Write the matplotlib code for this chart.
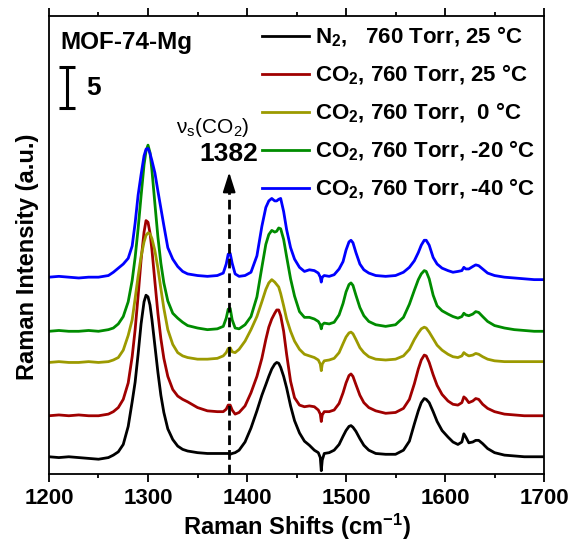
import numpy as np
import matplotlib
matplotlib.use('Agg')
import matplotlib.pyplot as plt
from matplotlib.ticker import MultipleLocator

plt.rcParams['font.family'] = ['Liberation Sans', 'DejaVu Sans']
plt.rcParams['font.weight'] = 'bold'
plt.rcParams['mathtext.default'] = 'regular'

# Raman shift grid (cm-1), denser around the bands
shift = [1200, 1210, 1220, 1230, 1240, 1250, 1260, 1265, 1270, 1275,
         1280, 1284, 1287, 1290, 1293, 1296, 1298, 1300, 1302, 1304,
         1307, 1310, 1313, 1316, 1320, 1325, 1330, 1335, 1340, 1350,
         1360, 1370, 1376, 1379, 1381, 1383, 1385, 1388, 1392, 1398,
         1404, 1410, 1415, 1419, 1422, 1425, 1428, 1430, 1432, 1434,
         1437, 1440, 1444, 1448, 1453, 1458, 1463, 1468, 1472, 1474,
         1475, 1476, 1478, 1483, 1488, 1493, 1497, 1500, 1503, 1505,
         1507, 1510, 1514, 1518, 1523, 1530, 1540, 1550, 1558, 1564,
         1569, 1573, 1576, 1579, 1581, 1584, 1588, 1592, 1597, 1603,
         1608, 1613, 1617, 1619, 1621, 1624, 1628, 1631, 1634, 1638,
         1643, 1650, 1660, 1670, 1680, 1690, 1700]

# intensity above each trace's own baseline (a.u.)
n2_25 = [0.1, 0.0, 0.1, 0.0, -0.1, -0.2, 0.0, 0.3, 0.7, 1.6,
         3.8, 6.8, 9.2, 12.6, 16.3, 19.0, 19.8, 19.6, 18.6, 16.8,
         13.6, 10.4, 7.6, 5.5, 3.5, 2.2, 1.4, 1.0, 0.8, 0.6,
         0.5, 0.5, 0.5, 0.5, 0.5, 0.4, 0.5, 0.6, 0.9, 1.9,
         3.6, 5.7, 7.6, 8.9, 9.9, 10.8, 11.4, 11.6, 11.5, 11.0,
         9.9, 8.5, 6.3, 4.5, 3.0, 2.0, 1.5, 0.9, 0.6, 0.0,
         -1.6, -0.3, 0.5, 0.6, 0.9, 1.6, 2.6, 3.3, 3.8, 3.9,
         3.7, 3.2, 2.3, 1.5, 0.9, 0.5, 0.4, 0.4, 0.9, 2.0,
         4.1, 5.7, 6.7, 7.2, 7.1, 6.7, 5.6, 4.4, 3.3, 2.5,
         1.9, 1.6, 1.9, 2.9, 2.5, 1.8, 1.9, 2.1, 2.1, 1.7,
         1.1, 0.6, 0.3, 0.2, 0.1, 0.1, 0.1]

co2_25 = [0.0, 0.1, 0.0, 0.1, 0.0, 0.0, 0.2, 0.5, 1.0, 2.0,
          4.0, 7.2, 10.5, 14.6, 19.0, 22.4, 23.8, 23.6, 22.3, 20.2,
          16.3, 12.5, 9.4, 7.0, 4.8, 3.2, 2.4, 2.0, 1.7, 1.0,
          0.6, 0.5, 0.5, 0.8, 1.3, 1.3, 0.7, 0.2, 0.4, 1.2,
          2.8, 4.8, 7.0, 9.3, 10.8, 11.8, 12.5, 12.9, 12.9, 12.2,
          10.3, 7.5, 4.2, 2.2, 1.3, 1.1, 1.2, 1.1, 0.7, 0.2,
          -0.7, 0.1, 0.5, 0.5, 0.7, 1.5, 2.8, 4.0, 4.9, 5.1,
          4.8, 3.8, 2.5, 1.6, 1.0, 0.6, 0.3, 0.4, 0.9, 2.0,
          3.9, 5.7, 6.8, 7.4, 7.3, 6.5, 5.0, 3.7, 2.6, 1.8,
          1.4, 1.3, 1.6, 2.3, 2.1, 1.6, 1.8, 2.1, 2.0, 1.4,
          0.9, 0.5, 0.2, 0.1, 0.0, 0.0, 0.0]

co2_0 = [0.0, 0.1, 0.0, 0.0, 0.1, 0.0, 0.1, 0.3, 0.6, 1.5,
         3.3, 5.2, 7.8, 10.5, 12.9, 14.7, 15.5, 15.8, 15.7, 15.1,
         13.6, 11.5, 9.0, 6.6, 4.0, 2.2, 1.2, 0.8, 0.6, 0.4,
         0.4, 0.5, 0.8, 1.2, 1.7, 1.8, 1.3, 1.2, 1.6, 2.6,
         4.0, 5.6, 7.4, 8.9, 9.7, 10.1, 9.8, 9.5, 9.2, 8.4,
         6.9, 5.3, 3.8, 2.6, 1.6, 1.0, 0.8, 0.6, 0.3, -0.2,
         -1.0, -0.2, 0.2, 0.3, 0.5, 1.2, 2.3, 3.1, 3.6, 3.7,
         3.5, 2.8, 1.8, 1.2, 0.7, 0.4, 0.3, 0.4, 0.8, 1.6,
         2.8, 3.6, 4.1, 4.3, 4.2, 3.7, 2.9, 2.1, 1.5, 1.0,
         0.7, 0.6, 0.8, 1.2, 1.0, 0.8, 0.9, 1.1, 1.0, 0.7,
         0.4, 0.2, 0.1, 0.1, 0.1, 0.1, 0.1]

co2_m20 = [0.0, 0.1, 0.0, 0.0, 0.1, 0.0, 0.2, 0.4, 0.9, 1.8,
           3.6, 6.2, 9.0, 12.5, 16.5, 20.3, 22.0, 22.7, 21.8, 19.6,
           15.5, 11.5, 8.3, 5.9, 3.7, 2.2, 1.6, 1.1, 0.7, 0.4,
           0.2, 0.3, 0.6, 1.6, 2.7, 2.8, 1.4, 0.4, 0.3, 0.8,
           1.8, 4.2, 7.8, 10.6, 11.8, 12.3, 12.1, 12.2, 12.6, 12.5,
           11.2, 9.1, 6.4, 4.3, 2.4, 1.7, 1.7, 1.5, 1.2, 0.8,
           0.3, 0.8, 1.0, 0.9, 1.1, 2.0, 3.4, 4.8, 5.7, 5.9,
           5.6, 4.4, 2.9, 1.9, 1.2, 0.8, 0.6, 0.8, 1.7, 3.3,
           5.0, 6.3, 7.0, 7.4, 7.3, 6.4, 4.4, 3.1, 2.5, 2.1,
           1.8, 1.6, 1.8, 2.2, 2.0, 1.9, 2.1, 2.4, 2.3, 1.8,
           1.2, 0.7, 0.4, 0.2, 0.1, 0.0, 0.0]

co2_m40 = [0.0, 0.1, 0.0, -0.1, 0.0, 0.0, 0.2, 0.6, 1.1, 1.6,
           2.3, 3.8, 6.6, 10.0, 12.5, 14.8, 15.6, 15.7, 15.1, 14.2,
           12.7, 10.5, 8.4, 6.3, 3.6, 2.2, 1.3, 0.7, 0.4, 0.2,
           0.1, 0.2, 0.5, 1.6, 2.8, 2.9, 1.7, 0.4, 0.1, 0.2,
           0.6, 2.6, 6.2, 8.5, 9.3, 9.6, 9.3, 9.3, 9.5, 9.6,
           8.0, 5.8, 3.6, 2.2, 1.2, 0.7, 0.9, 0.8, 0.5, 0.0,
           -0.6, 0.0, 0.2, 0.1, 0.3, 1.0, 1.9, 3.3, 4.3, 4.5,
           4.2, 3.0, 1.6, 0.9, 0.5, 0.2, 0.1, 0.2, 0.6, 1.2,
           2.0, 3.0, 3.9, 4.5, 4.5, 3.9, 2.4, 1.6, 1.1, 0.8,
           0.6, 0.7, 0.8, 1.2, 1.0, 1.0, 1.3, 1.5, 1.4, 1.0,
           0.5, 0.2, 0.0, -0.1, -0.2, -0.3, -0.3]

offsets = [2.0, 7.1, 13.6, 17.4, 24.0]
labels = ['N$_2$,   760 Torr, 25 °C',
          'CO$_2$, 760 Torr, 25 °C',
          'CO$_2$, 760 Torr,  0 °C',
          'CO$_2$, 760 Torr, -20 °C',
          'CO$_2$, 760 Torr, -40 °C']
colors = ['#000000', '#A00000', '#9C9A00', '#008C00', '#0000FF']
spectra = [n2_25, co2_25, co2_0, co2_m20, co2_m40]

fig = plt.figure(figsize=(5.71, 5.42), dpi=100)
ax = fig.add_axes([0.0858, 0.1255, 0.867, 0.845])

for y, off, c, lab in zip(spectra, offsets, colors, labels):
    ax.plot(shift, np.array(y) + off, color=c, lw=2.0, label=lab)

# CO2 band marker
ax.plot([1382, 1382], [0, 34.8], color='k', lw=2, dashes=(3.5, 1.8))
ax.annotate('', xy=(1382, 36.8), xytext=(1382, 34.4),
            arrowprops=dict(arrowstyle='-|>,head_length=1.2,head_width=0.38',
                            color='k', lw=1.5, shrinkA=0, shrinkB=0))
ax.text(1365.7, 42.2, r'ν$_s$(CO$_2$)', fontsize=15, fontweight='normal',
        ha='center', va='center')
ax.text(1381.8, 39.0, '1382', fontsize=19, ha='center', va='center')

# scale bar
ax.errorbar([1218], [47.1], yerr=[2.5], fmt='none', ecolor='k',
            elinewidth=2.2, capsize=6, capthick=2.2)
ax.text(1238, 47.1, '5', fontsize=19, ha='left', va='center')
ax.text(1211, 52.6, 'MOF-74-Mg', fontsize=17.5, ha='left', va='center')

ax.set_xlim(1200, 1700)
ax.set_ylim(0, 55.85)
ax.xaxis.set_major_locator(MultipleLocator(100))
ax.xaxis.set_minor_locator(MultipleLocator(50))
ax.tick_params(axis='x', which='both', direction='out', top=True,
               labelsize=16, width=1.3, pad=4)
ax.tick_params(axis='x', which='major', length=6)
ax.tick_params(axis='x', which='minor', length=3)
ax.set_yticks([])
for s in ax.spines.values():
    s.set_linewidth(1.3)

ax.set_xlabel('Raman Shifts (cm$^{-1}$)', fontsize=17, fontweight='bold',
              labelpad=2)
ax.set_ylabel('Raman Intensity (a.u.)', fontsize=17, fontweight='bold',
              labelpad=7)
ax.yaxis.label.set_y(0.474)

ax.legend(loc='upper right', frameon=False, fontsize=16, handlelength=2.1,
          handletextpad=0.27, labelspacing=0.62, borderaxespad=0.1,
          borderpad=0.3)

fig.savefig('out.png', dpi=100)
